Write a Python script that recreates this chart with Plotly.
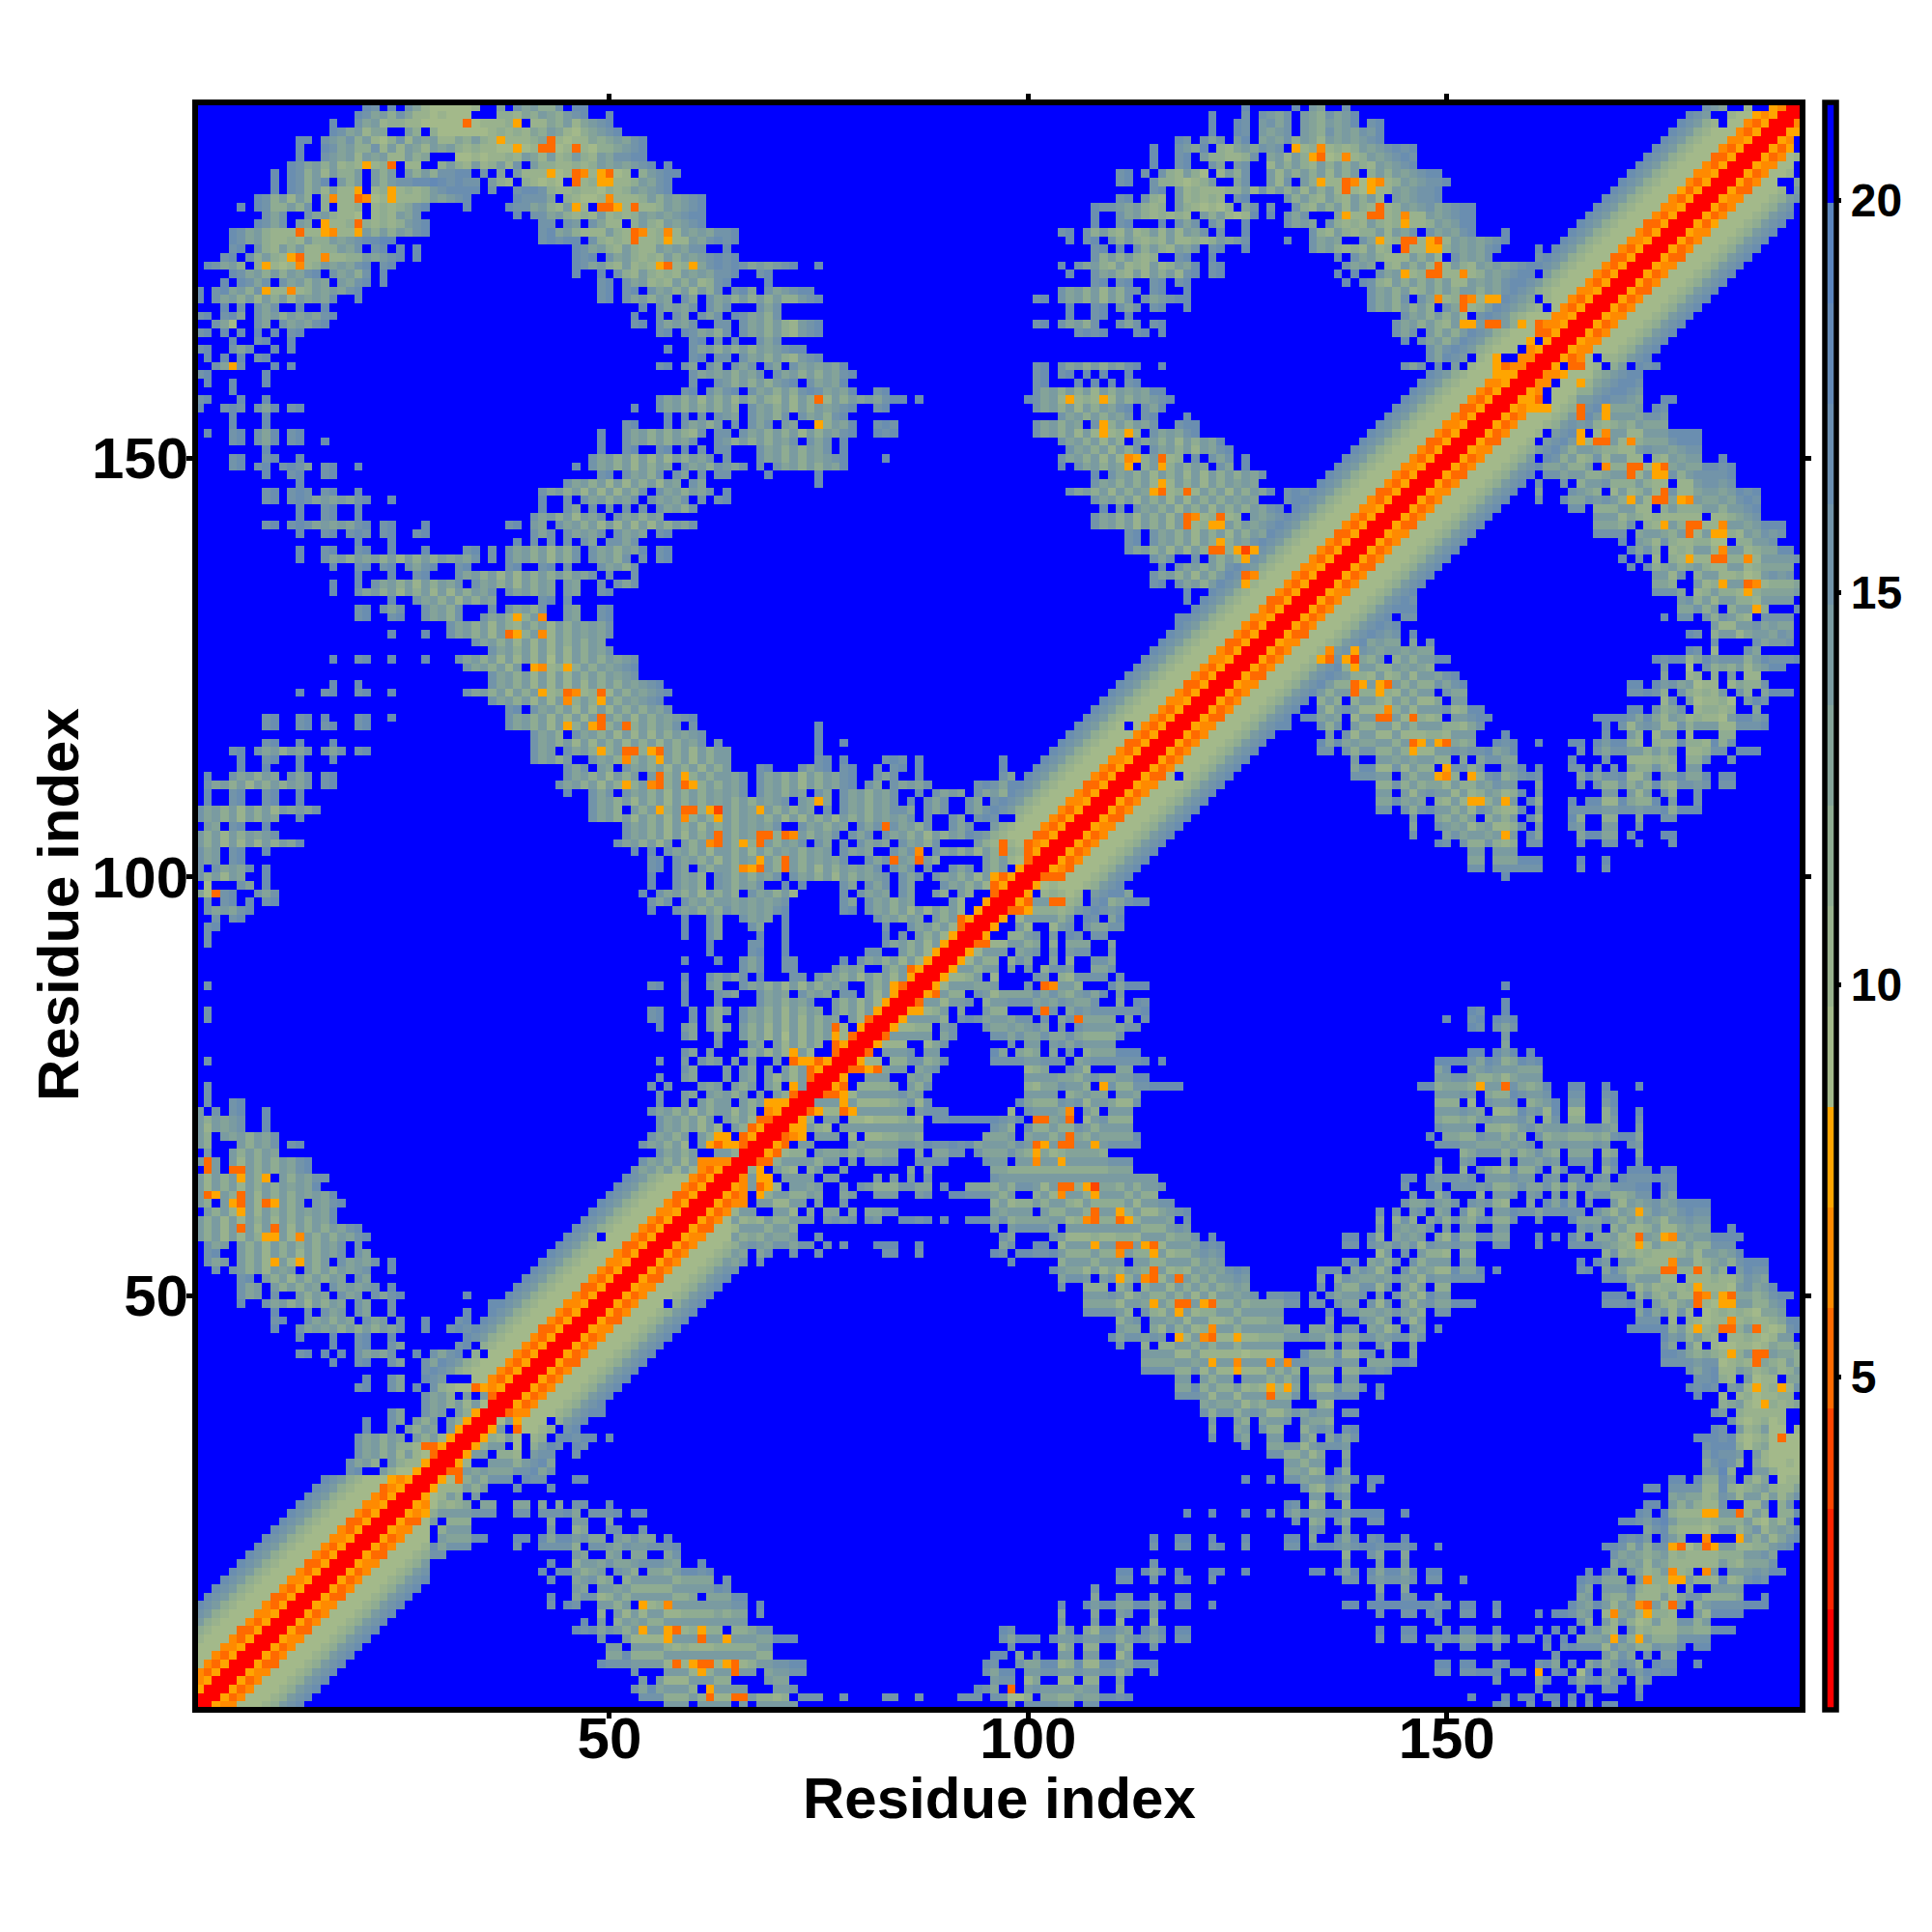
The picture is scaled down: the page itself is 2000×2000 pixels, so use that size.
import numpy as np
import plotly.graph_objects as go

# Residue distance map. Only one triangle is typed (the map is a distance matrix).
# Each line: row | start_column:levels ...   levels 0-e are colour-bar bands, "." is the blue top band.
ROWS_TOP = """
192|21:cb 24:c 26:b97666667 37:9 39:b9a88b 46:cc 126:c 132:c 134:a9 138:b 181:ba9 186:7 189:5400
191|20:cb9a8b97767666 35:. 37:88798a98abc 50:c 122:c 126:b 128:ba9b 133:a98b9ac 179:cba..7665450 191:0
190|17:c 20:b9a7887766666 33:3 34:67778 39:5 41:7798a79 48:abc 122:c 125:cb 128:ab9b 133:a98a9ac 141:bc 178:cba87.6643500
189|17:cb9a799 26:a8 29:86666667878798a97689abc 122:c 125:cb 128:a9ab 133:a98b9a9bac 177:cba8766643500
188|13:cc 16:ba9b8a768b7a9a7798a87577789 43:3 44:7677989a9bc 118:cb 121:b9b 125:ac 128:9a9b8a97a9a9abc 176:cba8766644500
187|13:c 16:cb9a88b7a7a97a9a8787766 39:5 40:67 42:33 44:67 46:3 47:76889abc 115:c 118:ba9c.879a9b 129:ab 132:5 133:78 135:4 136:7878a9abcbc 175:cba8766643500
186|13:c 16:ba9a7a9a77a89 32:66767787a97a78a87a9bbcc 115:c 118:bc 121:a88778b 129:9a7a8 134:5 135:3 136:67 138:4 139:78a9abcb 174:cba8766633500
185|12:cb9a8a787 21:5 22:78 24:3 25:. 26:77 30:8a87a78a7b 41:a8877878a9a9abc 57:c 115:c 118:bc 122:b9 125:ab 129:7a8a87a8a8a87a9abc 173:cba8766643500
184|10:c 12:cb8a7a88a 22:a8a 26:a8a8bbcc 35:b 37:9 39:a777 43:5 44:67 46:3 47:4 48:7 49:5 50:3 51:67 54:8abcc 111:bc 114:b 116:b87a86 123:7a8b 129:a7a8a8a7a8a 141:8a8a9abcc 172:cba8766644500
183|10:c 12:cb8ac 18:a8a 22:a8abbccdcbcbb 36:a87 40:87676 46:3 47:78 49:55 51:778a9bc 111:bc 115:b8876 78a 125:9b 129:a7b 133:a8 135:5 136:77 138:3 139:4 140:6 141:5 142:4 143:78a9abbc 171:cba8766643500
182|10:c 12:cb8a7a77 20:5 22:78 24:5 25:7878abcccc 36:b 39:bccb8778776878a9abc 115:bc 118:a787778 125:8a7b 129:8a8a7a8a7 138:3 139:76 141:5 142:77a9abbc 170:cba8766653500
181|8:cb8a7a8 16:8 17:4 18:77 20:3 21:4 22:67 24:5 25:7778a9abc 39:cbbb9 45:87667 50:4 51:7778a8a9abc 111:bc 114:b87 118:a78787 125:bc 131:b8a87a87a8a7 144:a9abbc 169:cba8766643500
180|6:c 8:cb88a8b 16:8 18:778 22:78789bc 33:c 38:cbb9a87a 46:5 47:7 49:33 51:5 52:7 53:3 54:778a9abc 108:cbba9a878 118:a876768 126:9b 129:b 132:b87a8a7a87 142:3 143:78a9ab9abcc 168:cba8766644500
179|9:b9b 14:b9a8776 22:787a9b 39:c 41:bb9a8787a7878a9a9abcc 108:c 111:b9a878787 121:a8a767 127:c 129:c 131:b9b 137:9 138:5 139:77 141:33 143:78 145:4 146:77a9abcc 167:cba8766643500
178|8:cb9b 13:a9 16:5 17:778 20:3 21:87878abc 42:bb 45:ba 48:b977 53:8a87a9abc 108:c 111:bc 116:c 118:b9b 122:b9 126:c 131:b9a9 136:b8787a878 145:5 146:778a9acc 166:cba8766633500
177|5:cb9a8777 13:3 14:77 16:5 17:4 18:77 20:5 21:a8a8a9bc 42:bc9a8777a87 53:3 54:4 55:78 57:4 58:7a9a9b 64:bc 104:bc 107:b8a87a78a7a7a9b 123:b 126:c 134:b87a8788a7a9b 148:b9a9bc 157:c 165:cba8766643500
176|5:cb9a87787a88a9abccdd 42:bcbc 46:c 48:b8787 53:3 54:778 57:5 58:77a9bc 64:bc 105:c 107:bc 110:b8a8787a77878a9ab 131:c 134:b9a9 140:b9 142:5 143:78 145:33 147:7 148:5 149:3 150:7a9a9abc 164:cba8766644500
175|5:bc 8:b87a8a7788a9b 22:bc 25:c 27:c 46:cb9a87a877a9a9bb 64:c 108:bc 111:c 113:b8a87a9b 122:bc 126:c 134:b9a8787a78 145:3 146:77 148:55 150:8a9a9bc 161:c 163:cba8766643500
174|4:bc 7:b8a87 12:5 13:3 14:77 16:4 17:7788a9abc 27:c 46:cbc 50:b9a8787a8a9abc 64:bc 108:b8a8a878 118:bc 122:c 137:c 139:b9a8777a8a7 151:b9a9b 161:bc 162:cba8766633500
173|2:cb9a8 8:8 9:5 10:767 13:4 14:78a9a9bc 23:bc 46:cb9a87a787 56:5 57:3 58:78 60:5 61:9bc 64:bc 66:b9a9abc 75:c 104:c 106:b9a87a787a78a9c 122:bc 138:b9a9 143:87a8a7 149:3 150:7a87a9a9abc 161:cba8766643500
172|5:cb9a8a8a9bc 17:b9a8b 23:c 46:c 49:c 51:b87a8787a9a9b 64:bc 68:bc 105:c 108:b9a87a7a8a7bc 122:bc 137:c 139:c 142:b9a 145:5 146:78 148:33 150:77 152:4 153:78a9abc 160:c.a8766643500
171|4:c 6:cb9b 11:b9a8a9 18:a9bc 23:c 49:bc 52:b9a787a8a78b 64:c 69:c 108:bc 111:bc 115:bc 118:bc 138:c 140:cb87a8a8a8a77a9a9bc 159:cba8766643500
170|1:c 3:bc9a8b 9:5 10:77 12:4 13:78a9a9bc 49:bc 52:bc 55:b9a8a7a8b 65:bc9 69:b9abcc 104:b9a8a7a8b 113:b 115:bc 119:c 141:b9a8a78a8a8aa8a9b 158:cba8766644500
169|1:c 3:b9a8a7a8a7a9a9c 20:c 49:bc 52:b9a8a9 59:b9 62:b9 64:a8a8a8a88abc 101:bc 104:b9a8a7a8b 114:b9abcc 141:b9a8b 147:b9 149:4 150:78 152:3 153:4 154:7 155:55 157:cba9.76643500
168|4:c 6:b 8:b9b 13:c 16:c 54:c 56:b9a9b 62:b9 64:b 68:b9b 105:c 108:bc 111:b9b 115:bc 119:c 141:b9a8a8a8 150:b9 152:3 153:78a 156:cba987.643500
167|1:bc 4:bc9 8:b9a8a9a9bc 53:c 56:b 58:b9 61:b9b 65:cb9a8b 105:c 108:bc 112:c 145:b9a8a8a7 154:b 155:cba8766644500
166|3:b9 5:6 8:b9 11:b9a9bc 53:bc 56:b9a9b 63:b 64:b 66:b9a8a87abc 101:bc 104:b9a8b 111:b9b 115:bc 144:b9a8a87a 152:55 154:a33a85634 4500
165|1:bc 4:c 6:c 8:c 10:c 12:bc 56:bc 59:c 60:b9a8 64:b 66:b9a8a87abc 106:bc 108:bc 113:bc 116:c 144:b9b 148:a8a8a 153:cba8766633500
164|5:c 8:bc 12:c 60:bc 63:b 65:c 68:b9b 145:c 147:b9a8a 152:cba876665.500
163|1:bc 5:b9b 10:c 12:c 57:c 60:b9a8 64:a8a8a9abcc 148:b9b 151:cba87666.4500
162|2:c 4:c 6:c 8:bc 60:bc 63:b 64:b 66:b9a8a87abc 148:b9 150:cba.765..4400
161|3:b9 5:5 6:b 10:c 12:c 56:bc 59:b9 62:b9 65:b9b 69:b9 72:b9a9a9c 101:bc 104:b9a8a8a9bc 116:c 145:b9b 149:c.a.7665344 00
160|1:bc 9:c 60:b9a9 64:a8a9b 70:b9a8a8a9bc 101:bc 104:bc 107:c 109:c 112:c 148:cba8766655500
159|2:c 5:c 9:c 60:b 63:b 64:a8a8a8abc 74:b9a9c 101:bc 106:c 108:c 110:c 112:bc 147:cba8766644500
158|5:c 59:bc 62:b9 64:bc 67:b9a8a8bc 75:b9a9c 82:bc 101:b9a8a8a7a8a9a9c 116:c 146:cba8766643500
157|1:bc 6:c 9:c 56:b9a8a7a8 64:a7a8a87a7a8 75:3 76:7a8a9a9bcc 87:c 100:cb9a7 105:5 106:787 109:5 110:7a8a9abc 145:cba8766643500
156|1:c 4:bcb 8:b9c 12:bc 53:c 56:b9a8a8a8 64:a8 67:b9a8a7a8a9abc 82:bc 101:b9a8a7a8a9bc 114:b9c 144:cba8766633500
155|5:c 9:c 57:c 59:c 61:b 63:b 64:a9 67:b9a8b 73:b9a8bc 104:b9a8a8a9b 114:bc 119:c 143:cba8766643500
154|5:c 9:c 52:bc 57:c 59:b9a8a 65:b 67:b9b 71:a9 75:5 76:8a9c 82:bcb 101:b9a8a9 108:b 109:5 110:8a8a9b 118:bcc 142:cba8766644500
153|2:c 5:bc 8:b9c 12:bc 49:c 52:b9a8a8a87b 63:b 64:b 66:b9a8a8a7a8a9bc 82:cbc 101:b9a8a7a7 109:5 110:78 112:5 113:8 115:b9a9bc 141:cba8766643500
152|5:bc 8:b9c 12:bc 16:c 49:c 52:b9a8a8a9b 63:b 64:a8a8a8a9b 74:b9b 78:c 104:b9a8a7a8 113:b9a8a7a8a9c 140:cba8766633500
151|9:c 49:c 52:bc 56:bc 59:c 61:b 63:b 64:b 68:b9a8a8a9b 78:c 105:b9a8a7a8b 115:b9a8a7a9bc 139:cba8766643500
150|5:bc 9:bc 13:c 48:b9a8a7a7a7a8a9b 64:b 68:b9a8a8a9abc 83:c 104:b9a8a7a7 112:4 113:5 114:8a 116:3 117:78 120:b 122:b9b 126:c 138:cba8766643500
149|5:bc 8:bc 11:bcb9 16:bc 20:c 46:c 48:b9a8a7a8a9 59:b9a8b 64:a9b 68:b 70:b9a8a8a9c 104:c 106:b9a8a9 112:5 114:8a 116:5 117:8a8a9 123:b9 126:c 137:cba8766644500
148|9:c 12:bc 16:bc 49:bc 52:b9a8b 58:b9 61:b 63:b 64:b 69:c 75:c 108:c 110:b9a8a7a8a7a7a8a8a9b 136:cba8766643500
147|13:c 45:b9a8a7a7a8a7a9 60:b9 75:c 108:b9a8a8a7 116:5 117:7a8a7a8a9a9 135:cba8766643500
146|9:bc 12:bcb 16:bc 20:c 42:b9a8a7a7a7a8b 56:b9a8a9b 64:c 105:b9a8a7a8a9 115:5 116:3 117:78 119:3 120:7a8a7a8a9 129:c 131:bcb 134:cba8766633500
145|9:bc 12:bcb9a9a9bc 24:c 42:c 45:b 47:b9a8a9b 55:b9a9b 61:b 63:b 64:c 108:b9a8a7a8a7a7a8a8a9a9 131:bc 133:cba8766643500
144|13:c 16:bc 20:c 42:c 45:b9 48:b 50:b 52:b 54:b 56:b9a8b 109:c 111:b 113:b9a8a7a8a7a8a8a9 129:bc 132:cba8766644500
143|13:c 16:bc 20:c 41:b9a8a7a9b 51:b9a8a9 108:b9a8a7a8a7a 119:3 120:4 121:78 123:3 124:78 127:a9ab 131:cba8766643500
142|9:bc 12:bcb9a9a9bc 23:bc 28:c 38:bc 41:a9 44:b9a8a7a7a7a7a8a9b 108:b9a8a7a8a7a 119:3 120:78 122:55 124:a8a9ab 130:cba8766643500
141|13:c 16:bc 19:bcb 23:bc 27:bc 41:b9b 45:b9a9b 51:b9a9 56:bc 112:bc 115:b9a8a7a8a7a8a9 129:cba8766633500
140|20:c 24:c 39:c 41:b 43:b 45:b 47:b9 50:b 51:b9b 112:bc 115:b9a8a7a8 123:5 124:8a9b 128:cba8766643500
139|13:c 16:bc 20:bc 24:c 28:c 33:bc 36:b 38:b9a8a7a8b 48:b9a8a9 54:c 56:bc 112:b9a8a7a7a8 122:33 124:8 125:5 126:2 127:5 128:ba8766643500
138|13:c 16:b9a8a9a8a7a8a8a9a9b 36:b 38:b9a8a7a8b 48:b9a8b 54:b 56:bc 115:b9b 120:b 122:a8a8 126:5ba8766643500
137|17:c 20:bc 23:bc 26:b9bc 32:bc 38:bc 42:bc 45:b 49:b9a8b 116:c 118:b9a8a8b 125:cba8766644500
136|20:c 24:c 27:bc 32:b9a8a7a7a8a8a8a9b 50:b 53:b 115:b9a8a7a8a 124:cb34766643500
135|17:c 20:c 22:b9a8a7a8a9b 34:b9a8a7a8a9 45:a9 49:b 51:b9b 115:bc 118:b9a8a 123:cba5766643500
134|17:c 20:b9a8a7a8a7a7a8a9b 38:b9a8a9 45:a9 49:bc 119:c 122:cba8766643500
133|24:c 27:b9a8a7a8a9 42:bc 45:b 119:c 121:cba8766633500
132|20:bc 23:b9b 28:b9a8b 36:b 38:b9a8b 45:a9 49:bc 120:cba8766643500
131|20:bc 24:bc 28:b9a8b 35:b9a 38:8 39:5 40:8a 42:4 45:a9 49:bc 118:c 119:cba8766644500
130|31:b9a8a7a87a8a7a8a9a9b 118:cba8766643500
129|24:c 28:c 31:b9a8a7a 38:3 39:5 40:8a 42:4 43:7a8a9a9b 117:cba8766643500
"""

ROWS_MID = """
128|34:b9a8a7a7a7a8a8a9 116:cba8766633500
127|36:b9a8a7a7a7a8a9b 115:cba8766643500
126|17:c 20:bc 24:c 28:c 32:b9a8a7a7a7a6a7a8a8a9ab 114:cba8766644500
125|33:b9a8a7a 41:5 42:4 43:78 45:5 46:8a8a9abc 113:cba8766643500
124|36:b9a8a7a7a7a8a8a9ab 112:cba8766643500
123|17:c 20:c 36:b9a8a7a7a7a7a8a8a9abc 56:c 111:cba8766633500
122|13:c 16:bc 20:bc 24:c 33:b9a8a7a8a 42:5 43:78 45:3 46:4 47:78 49:3 50:7a8a9abc 110:cba8766643500
121|36:b9a8a7a7a 45:4 46:8a8 49:5 50:a8a9abc 109:cba8766644500
120|38:bc 41:b9a8a7a7a7a8a8a9b 108:cba8766643500
119|9:bc 13:bc 16:c 20:bc 24:c 38:b9a8a7a7a7a 49:3 50:a8a7a8a9abc 107:cba8766643500
118|9:bc 13:bc 16:bc 20:bc 38:b9a8a7a 45:5 46:8a 48:5 49:3 50:8a 52:3 53:8a8a9b 60:b 75:c 106:cba876.643500
117|41:b9a8 46:b9a8a7a7a7a8a9ab 75:c 105:cba8766643500
116|9:bc 13:c 17:c 41:b9a8a7a7a8a7a8a7a8a9b 63:b 75:c 78:c 104:cba8766633500
115|5:bc 8:b9a8a9b 16:b9b 20:bc 41:b9a 45:b9a8 49:5 50:8a 52:33 54:8 55:5 56:3 57:a8a7a8a 64:a 75:c 103:cba8766643500
114|6:c 9:bc 13:c 17:c 41:b9a8a 48:b9a8 52:4 53:8a8 56:5 57:a8a7a8a 64:a 75:bc 78:c 83:bcb 87:c 97:c 102:cba8766644500
113|6:c 9:c 13:c 45:b9b 49:a9 52:b9a8a7a8a7a8 64:a 68:bc 73:b9bc 78:bc 82:b 84:bc 87:c 97:c 101:cba8766643500
112|2:c 5:b9a8a9 12:b9b 16:bc 45:b9a8a7a8 53:a 55:a 56:3 57:8a 59:5 60:8a8a 64:a9b 68:b9a8a7a8a9bc 82:b9b 87:c 97:b9 100:cba8766643500
111|2:b9a8a7a8a8a9b 16:bc 44:b9a8a7a8 52:5 53:8a 55:4 56:3 57:8a 59:3 60:5 61:8a8 64:a9b 68:b9a8a7a8a9bc 81:b9 84:b9a9b 94:bc 96:b9c 99:cba8766633500
110|2:c 5:bc 9:bc 13:c 45:c 48:b9b 52:b9a8a7a8a8a9 64:a9b 68:b9a8a9 75:b9 78:b9a8a9b 87:c 89:b9a9 94:b9a8 98:cba8766643500
109|2:c 5:bc 9:bc 13:c 48:b9a8a7a8a7a8a8a9 64:a8a8a9ab 73:a9 75:5 76:9 78:b9a8a9b 86:c 88:b9b 93:b9 96:b 97:cba8766644500
108|1:b9a8a7a8a7a9a9b 48:b9a8 53:a8a 56:5 57:8a 59:33 61:8 62:5 63:2 64:a8a9 68:5 69:a8a8a9 76:b 78:b9a8a9b 85:b9 88:b9b 93:b9b 96:cba8766643500
107|1:b9a8a7a8a9 13:c 48:b9a8a7a8a7a 59:4 60:8a8 63:5 64:a8a9a8a7a7a8a7a8a8a9a9b 88:b 91:b9 94:b 95:cb..766643500
106|2:a9 5:bc 9:c 52:b9a8a7a8a7a8 64:a8a9a9b 73:b9a8a9 80:b9b 83:3 84:b9a8b 91:b9b 94:..a8766643500
105|1:a8a7a8a9ab 52:b9a8a7a7a8a 63:3 64:a8a9 68:33 70:8 71:3 72:4 73:a8a9b 79:b9b 83:b9a8a7a8a9 93:cba8766633500
104|1:a8a7a7a7a8a9c 51:b9a8a7a 59:a8a 62:4 63:3 64:a8 66:5 67:8 68:3 69:a8a9b 75:b9 78:b 80:b9a9 85:b9a8b 94:a8737634500
103|1:b9a 5:bc 9:c 53:c 55:c 57:b9a8a7a 64:a8a7a8a9a8a9a 78:b9a9 84:b9b 87:4 89:b9a8a7a8 97:3873500
102|1:b9a 5:bc 55:bc 58:b9a8a7 64:a8a9 68:5 69:a8 71:3 72:a8a9a9b 81:b9b 84:3 85:a9 87:3 88:a8 95:a8a763 101:00
101|1:b 3:b9a9c 9:c 55:bc 58:b9 61:a8a 64:a8 66:4 67:5 68:3 69:a8 71:3 72:a8a7a8a9a9b 84:b9b 88:b 91:b9b 95:a8a.500
100|1:b8a7a9 9:c 55:c 58:b9a8 63:b 64:a8a8a9b 72:b9a8a7a8a9ab 85:b9b 89:b9a8a7a 96:53500
99|2:6 6:b9 9:c 55:c 58:b9a8 63:b 64:a8a9b 71:c 73:c 78:b9 81:b9b 85:b9 90:b9a8a7 96:3500
98|1:96 3:3 4:bc 8:b9b 54:c 56:b9a8a7a8 64:a8 67:b9a8a7 78:b 80:b9a9 85:b9 89:a8 92:a8 96:300
97|2:b 4:bc 7:c 9:bc 55:b9b 59:b9a8a 64:a9a9a9ab 78:b9 81:b9a8a9 91:a7 95:500
96|2:b9a9bc 55:c 58:b9a8a8 64:b9a9a9bc 78:bc 81:b9a8a7a7a8a7 94:500
95|3:b 5:bc 59:c 62:b9 66:b9a9 71:c 82:b9a8a9 89:a8a 92:3500
94|2:bc 59:c 62:b9 67:b9 71:c 83:b 86:b9a8a7 92:300
93|2:b 59:c 62:b9 68:c 71:c 83:c 85:b 87:a8a7 91:500
92|2:b 62:c 67:bb 71:c 83:b9 85:a8a7a 90:500
91|62:c 67:bc 71:c 81:bb 85:a8a7 89:500
90|59:c 63:c 66:b9b 71:bb 78:c 80:b9a8a7a7 88:500
89|66:b9b 71:bb 77:b9a9 83:a8a 86:3500
88|59:c 62:b9 64:b9b 68:c 72:bb 75:b9a8a7a8a7a 86:500
87|2:b 55:bc 59:b 62:a9 66:b9a8a7a7a8a9b 81:a8a 84:5300
86|59:c 63:b 64:a9 68:b9a9 73:b9a9 78:bb 81:a7a 84:500
85|59:c 63:b 68:b9a8a9b 77:a8a7a7 83:500
84|2:b 55:bc 60:b 62:a8 64:a 66:b9a8a7a8a9 77:a8a7a 82:500
83|2:b 55:bc 60:b 62:a8 66:b9a8a7a7a8a9 79:a7 81:300
82|56:c 59:a9 62:a8 64:a 66:a8a7a7a7a8a 77:37.500
81|59:b9 63:a 66:a8a7a6a7a8a 77:57300
80|63:b 67:a9 70:a7a7a8 77:3500
79|59:b9 62:a 66:a8a7a7 72:5 73:a7 77:300
78|2:b 56:b 59:a 61:b9a 65:a 67:a 70:a 72:3553500
77|59:b9 64:a 66:a9 69:a 71:a7a 74:3500
76|56:b 59:a9 64:a 66:a9 69:a7a7a 74:300
75|2:b 55:b 57:b 61:a9a 65:a8a 69:a8 72:5a00
74|2:b 56:b 59:a9 62:a9 64:a8a 68:a 70:a8 72:300
73|2:b 5:bc 56:b 59:a 61:a8a 64:a 66:a8a 69:55500
72|1:a 3:b 5:bc 9:c 55:b9a8a7a8a 64:a7a8 69:4500
71|1:a8a9ab 9:c 56:b9a8a7a 64:a8a7 68:3300
70|1:a7a9ab 9:c 56:b9a8a7a7 65:a8 67:3500
69|1:a8 4:a9a8a9b 55:b9a8a 61:a8 63:55 66:3500
68|1:a8 6:a8a9b 12:bc 54:b9a8a7 61:a 62:535 65:5300
67|2:a 5:a8a8a9 56:b9a8a 63:a 64:a800
66|1:a3a 5:a7a8a8a9bc 54:b9a8a7a 61:444 64:400
65|2:3a 5:33 7:a8a8a9bc 53:b9a8a7a7 61:43500
"""

ROWS_LOW = """
64|1:a7a8a 6:5 7:a8 9:5 11:a8a9b 16:b 52:cba8766643500
63|1:a7a8a7a8a8a9a9c 51:cba8766643500
62|1:a35 4:a8 6:3 7:a7a8a8a9a9c 50:cba8766633500
61|1:a8 4:a 5:5 6:3 7:a7 9:3 10:5 11:a8a 15:a9bc 49:cba8766643500
60|2:a8a7 6:5 7:a7a8a8a9a9c 48:cba8766644500
59|1:a8a7a7a8a7a8a8a9c 47:cba8766643500
58|1:a8a7a 6:3 7:a7a 10:3 11:a7a8a8a9bc 46:cba8766643500
57|1:a8a7a7a8 9:55 11:a7 13:4 14:a8a8a9bc 45:cba8.66643500
56|2:b9a 6:a8a7a8a8a8a9b 20:b 44:cba8766633500
55|2:bc 6:a8a7a8a7a8a9b 20:b9 43:cba8766643500
54|2:b9a 6:a8a7 10:5 11:a7 13:5 14:a8a 18:b9a9b 24:c 42:cba8766644500
53|3:b 5:b 6:a8a7a9a 14:a8a8a9ab 24:c 41:cba8766643500
52|6:bc 9:a8a7a8a8a9 20:b9 40:cba8766643500
51|6:b9a 10:a8a8a9 17:b9a9ab 24:c 39:cba8766633500
50|6:b9a 10:b 13:a8a9 18:b9a 22:b9bc 33:c 38:cba8766643500
49|6:c 9:b9a8a7a8a9 20:b9 24:b 36:c 37:cba8766644500
48|10:c 14:b 16:b9a 20:b9 24:b 33:c 36:cba8766643500
47|10:bc 14:b9a8a9 21:b9a 25:b 28:c 32:bc 35:cba8766643500
46|10:c 13:b9a9a8a8a8a9b 28:c 31:bc 33:b 34:cba8766633500
45|13:c 17:c 20:bc 24:c 33:cba8766643500
44|17:c 20:bc 24:b9 32:bc.8766643500
43|13:bc 16:c 18:c 20:b9a9b 27:c 29:b9 31:bc.8.66643500
42|17:c 20:bc 24:b9 28:b9 30:cba8766643500
41|28:bc 29:cba8766643500
40|21:c 24:b9 28:cba...6643500
39|20:bc 24:b9 27:c.b8766354500
38|28:b9a8.a.a300
37|28:b9a8a7a600
36|24:b9 28:b9a 32:a8 34:500
35|21:c 24:b9 27:a8a 31:a8 33:500
34|21:c 24:b 26:a8a9 31:a500
33|20:b9a8a9 27:a8a7 31:500
32|20:b9a8a887 28:33500
31|20:b9a8a7a76 29:300
30|19:b9a8 24:a877 28:500
29|19:bc 23:a866 27:500
28|16:cba8766654500
27|15:cba8766634500
26|14:cba8766643500
25|13:cba8766644500
24|12:cba8766643500
23|11:cba8766633500
22|10:cba8766643500
21|9:cba8766644500
20|8:cba8766643500
19|7:cba8766643500
18|6:cba8766633500
17|5:cba8766643500
16|4:cba8766644500
15|3:cba8766643500
14|2:cba8766633500
13|1:cba8766643500
12|1:ba8766644500
11|1:a8766643500
10|1:8766633500
9|1:766643500
8|1:66644500
7|1:6643500
6|1:643500
5|1:43500
4|1:4500
3|1:500
2|1:00
1|1:0
"""

# colour-bar bands, bottom to top
BAND_COLOURS = ["#FF0000", "#FF2400", "#FF4500", "#FF6A00", "#FF8A00", "#FFA500",
                "#A3B98A", "#99B28D", "#8FAC92", "#84A399", "#7A9BA1",
                "#7294A9", "#6A8EB0", "#6389B6", "#5B85BE", "#0000FF"]
ZMIN = 0.75
ZMAX = 21.25
RESIDUES = 192
TICKS = [50, 100, 150]
BAR_TICKS = [5, 10, 15, 20]
AXIS_TITLE = "Residue index"

step = (ZMAX - ZMIN) / len(BAND_COLOURS)
z = np.full((RESIDUES, RESIDUES), ZMIN + step * 15.5)
for block in (ROWS_TOP, ROWS_MID, ROWS_LOW):
    for line in block.strip().splitlines():
        y, spans = line.split("|")
        y = int(y)
        for span in spans.split():
            if ":" in span:
                col, levels = span.split(":")
                col = int(col)
            else:
                levels = span
            for ch in levels:
                if col <= y:
                    level = 15 if ch == "." else int(ch, 16)
                    z[y - 1, col - 1] = z[col - 1, y - 1] = ZMIN + step * (level + 0.5)
                col += 1

n = len(BAND_COLOURS)
colorscale = []
for i, colour in enumerate(BAND_COLOURS):
    colorscale += [[i / n, colour], [(i + 1) / n, colour]]

FONT = "Liberation Sans"
residues = list(range(1, RESIDUES + 1))
fig = go.Figure(go.Heatmap(
    x=residues, y=residues, z=z, zmin=ZMIN, zmax=ZMAX, colorscale=colorscale,
    colorbar=dict(
        thickness=12, outlinewidth=5.5, outlinecolor="black", borderwidth=0,
        x=1889 / 2000, xanchor="left", xpad=0, ypad=0,
        y=230 / 2000, yanchor="bottom", len=1664 / 2000, lenmode="fraction",
        tickvals=BAR_TICKS, ticks="outside", ticklen=3, tickwidth=5, tickcolor="black",
        tickfont=dict(family=FONT, size=48, color="black", weight="bold"),
    ),
))
axis = dict(
    range=[0.82, RESIDUES + 0.18], tickvals=TICKS, ticks="outside", ticklen=6, tickwidth=5,
    tickcolor="black", showline=True, linecolor="black", linewidth=5.5, mirror="ticks",
    showgrid=False, zeroline=False,
    tickfont=dict(family=FONT, size=60, color="black", weight="bold"),
)
title_font = dict(family=FONT, size=60, color="black", weight="bold")
fig.update_layout(
    width=2000, height=2000, autosize=False, margin=dict(l=0, r=0, t=0, b=0),
    paper_bgcolor="white", plot_bgcolor="white",
    xaxis=dict(axis, domain=[204.75 / 2000, 1863.25 / 2000], ticklabelstandoff=-31),
    yaxis=dict(axis, domain=[232.75 / 2000, 1891.25 / 2000], ticklabelstandoff=-14),
    annotations=[
        dict(text=AXIS_TITLE, xref="paper", yref="paper", x=1034 / 2000, y=1 - 1861 / 2000,
             xanchor="center", yanchor="middle", showarrow=False, font=title_font),
        dict(text=AXIS_TITLE, xref="paper", yref="paper", x=60 / 2000, y=1 - 937 / 2000,
             xanchor="center", yanchor="middle", showarrow=False, textangle=-90, font=title_font),
    ],
)
fig.write_html("out.html", config={"displayModeBar": False},
               post_script="document.body.style.margin='0';window.dispatchEvent(new Event('resize'));")
